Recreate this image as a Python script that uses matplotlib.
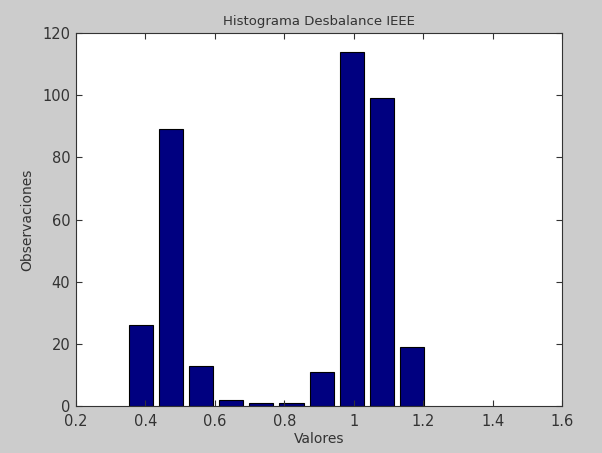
import matplotlib
matplotlib.use('Agg')
import matplotlib.pyplot as plt

# bin centres (MATLAB hist, 10 bins) and counts
centros = [0.388, 0.4746, 0.561, 0.648, 0.734, 0.821, 0.908, 0.994, 1.081, 1.167]
observaciones = [26, 89, 13, 2, 1, 1, 11, 114, 99, 19]
ancho_bin = 0.0866

fig = plt.figure(figsize=(6.02, 4.53), dpi=100, facecolor='#cccccc')
ax = fig.add_axes([0.126, 0.1038, 0.8076, 0.8232])

ax.bar(centros, observaciones, width=0.8 * ancho_bin, color='#000080',
       edgecolor='black', linewidth=0.8)

ax.set_xlim(0.2, 1.6)
ax.set_ylim(0, 120)
ax.set_xticks([0.2, 0.4, 0.6, 0.8, 1.0, 1.2, 1.4, 1.6])
ax.set_xticklabels(['0.2', '0.4', '0.6', '0.8', '1', '1.2', '1.4', '1.6'])
ax.set_yticks([0, 20, 40, 60, 80, 100, 120])

ax.tick_params(direction='in', length=4, width=0.8, top=True, right=True,
               labelsize=10.5, colors='#333333')
ax.tick_params(axis='x', pad=6)
ax.tick_params(axis='y', pad=4)
for s in ax.spines.values():
    s.set_color('#333333')
    s.set_linewidth(0.8)

ax.set_title('Histograma Desbalance IEEE', fontsize=9.5, color='#333333', pad=6)
ax.set_xlabel('Valores', fontsize=10, color='#333333', labelpad=2)
ax.set_ylabel('Observaciones', fontsize=10, color='#333333', labelpad=6)

fig.savefig('out.png', dpi=100, facecolor=fig.get_facecolor())
